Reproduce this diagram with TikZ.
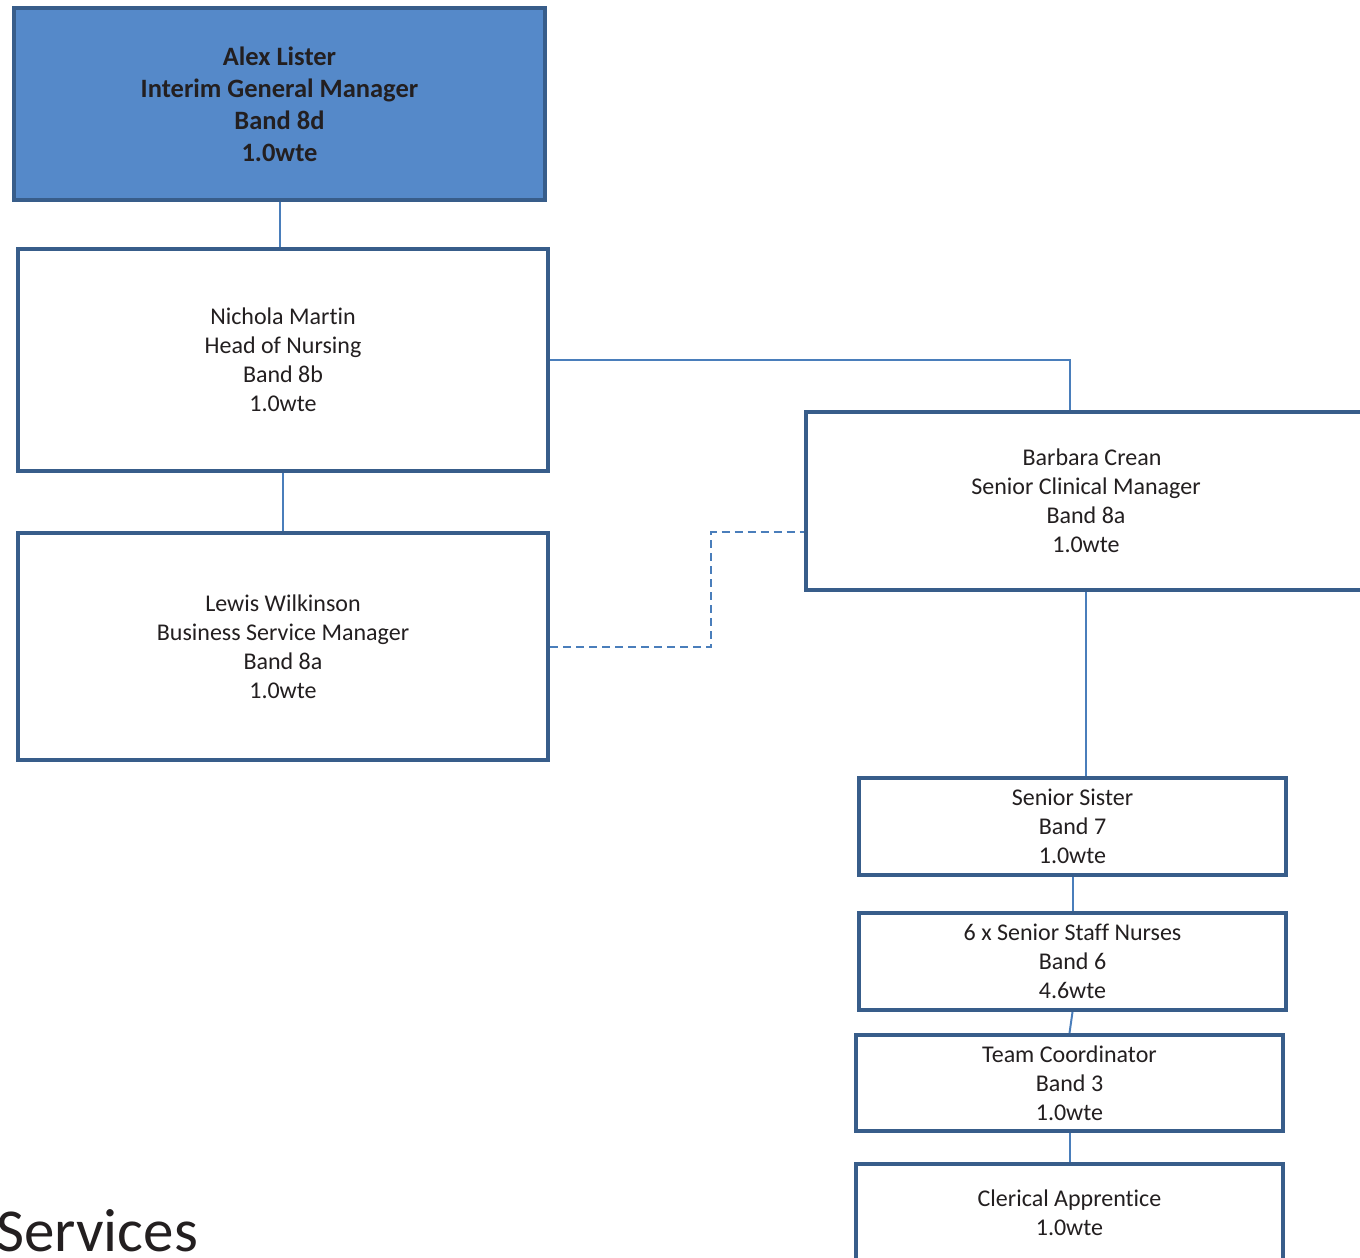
\documentclass[tikz,border=0pt]{standalone}
\usepackage{fontspec}
\setmainfont[Ligatures={NoCommon,NoContextual}]{Carlito}
\definecolor{boxline}{HTML}{385D8A}
\definecolor{conn}{HTML}{4A7EBB}
\definecolor{topfill}{HTML}{5589C9}
\definecolor{txt}{HTML}{231F20}
\tikzset{
  box/.style={draw=boxline, line width=4pt, fill=white, inner sep=0pt, align=center,
    text=txt, font=\fontsize{24pt}{29pt}\selectfont},
  topbox/.style={box, fill=topfill, font=\fontsize{26.5pt}{32pt}\selectfont\bfseries},
  link/.style={draw=conn, line width=2pt},
  dlink/.style={link, dash pattern=on 8pt off 5pt}
}
\begin{document}
\begin{tikzpicture}[x=1pt,y=-1pt]
\useasboundingbox (0,0) rectangle (1360,1258);
\clip (0,0) rectangle (1360,1258);
\fill[white] (0,0) rectangle (1360,1258);
\node[topbox, minimum width=531pt, minimum height=192pt] (top) at (279.5,104) {Alex Lister\\Interim General Manager\\Band 8d\\1.0wte};
\node[box, minimum width=530pt, minimum height=222pt] (nich) at (283,360) {Nichola Martin\\Head of Nursing\\Band 8b\\1.0wte};
\node[box, minimum width=530pt, minimum height=227pt] (lewis) at (283,646.5) {Lewis Wilkinson\\Business Service Manager\\Band 8a\\1.0wte};
\node[box, minimum width=560pt, minimum height=178pt] (barb) at (1086,501) {\hspace*{12pt}Barbara Crean\\Senior Clinical Manager\\Band 8a\\1.0wte};
\node[box, minimum width=427pt, minimum height=97pt] (sis) at (1072.5,826.5) {Senior Sister\\Band 7\\1.0wte};
\node[box, minimum width=427pt, minimum height=97pt] (nurse) at (1072.5,961.5) {6 x Senior Staff Nurses\\Band 6\\4.6wte};
\node[box, minimum width=427pt, minimum height=96pt] (team) at (1069.5,1083) {Team Coordinator\\Band 3\\1.0wte};
\node[box, minimum width=427pt, minimum height=98pt] (cler) at (1069.5,1213) {Clerical Apprentice\\1.0wte};
\node[anchor=base west, inner sep=0pt, text=txt, font=\fontsize{61pt}{70pt}\selectfont] (svc) at (-4,1251) {Services};
\coordinate (dx) at (711,0);
\path[link] (top.south) -- (top.south |- nich.north);
\path[link] (nich.south) -- (lewis.north);
\path[link] (nich.east) -| ([xshift=-16pt]barb.north);
\path[dlink] (lewis.east) -- (lewis.east -| dx) |- ([yshift=-31pt]barb.west);
\path[link] (barb.south) -- (barb.south |- sis.north);
\path[link] (sis.south) -- (nurse.north);
\path[link] (nurse.south) -- (team.north);
\path[link] (team.south) -- (cler.north);
\end{tikzpicture}
\end{document}
